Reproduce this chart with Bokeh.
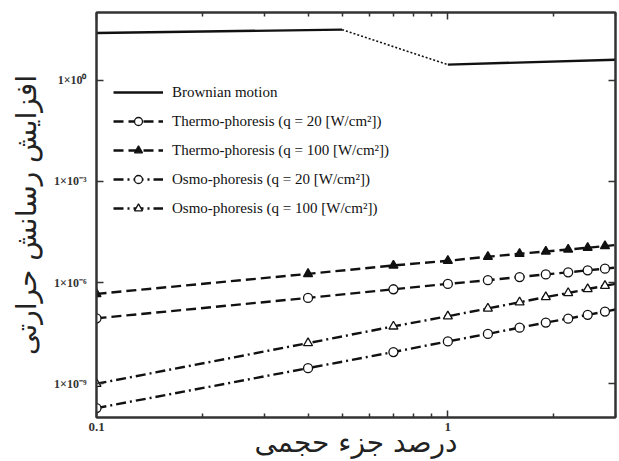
from bokeh.plotting import figure
from bokeh.models import (FixedTicker, CustomJSTickFormatter, LogAxis, Legend,
                          LegendItem)
from bokeh.embed import file_html
from bokeh.resources import INLINE

# ---------------- data ----------------
vol_frac = [0.1, 0.4, 0.7, 1.0, 1.3, 1.6, 1.9, 2.2, 2.5, 2.8, 3.0]
n_markers = 10  # markers drawn on the first 10 points

thermo_q20 = [8.7e-8, 3.5e-7, 6.3e-7, 9.1e-7, 1.17e-6, 1.45e-6, 1.74e-6, 2.0e-6, 2.3e-6, 2.57e-6, 2.75e-6]
thermo_q100 = [4.6e-7, 1.8e-6, 3.2e-6, 4.4e-6, 5.8e-6, 7.1e-6, 8.3e-6, 9.5e-6, 1.07e-5, 1.2e-5, 1.29e-5]
osmo_q20 = [1.9e-10, 2.9e-9, 8.7e-9, 1.8e-8, 3.0e-8, 4.6e-8, 6.5e-8, 8.5e-8, 1.1e-7, 1.38e-7, 1.58e-7]
osmo_q100 = [1.0e-9, 1.6e-8, 5.0e-8, 1.0e-7, 1.7e-7, 2.6e-7, 3.7e-7, 4.9e-7, 6.4e-7, 8.0e-7, 9.1e-7]

brown_x_a = [0.1, 0.5]
brown_y_a = [24.8, 31.0]
brown_x_gap = [0.5, 1.0]
brown_y_gap = [31.0, 2.85]
brown_x_b = [1.0, 3.0]
brown_y_b = [2.85, 4.0]

x_tick_values = [0.1, 1.0]
x_tick_labels = ["0.1", "1"]
x_minor_ticks = [0.2, 0.3, 0.4, 0.5, 0.6, 0.7, 0.8, 0.9, 2.0, 3.0]
y_tick_values = [1e-9, 1e-6, 1e-3, 1.0]
y_tick_labels = ["1×10⁻⁹", "1×10⁻⁶", "1×10⁻³", "1×10⁰"]

labels = ["Brownian motion",
          "Thermo-phoresis (q = 20 [W/cm²])",
          "Thermo-phoresis (q = 100 [W/cm²])",
          "Osmo-phoresis (q = 20 [W/cm²])",
          "Osmo-phoresis (q = 100 [W/cm²])"]
x_title = "درصد جزء حجمی"
y_title = "افزایش رسانش حرارتی"

# ---------------- figure ----------------
p = figure(width=619, height=461, x_axis_type="log", y_axis_type="log",
           x_range=(0.1, 3.0), y_range=(1e-10, 1e2),
           output_backend="svg", toolbar_location=None,
           min_border_top=12, min_border_right=4, min_border_left=96,
           min_border_bottom=40)
p.grid.visible = False
p.outline_line_color = "#333333"
p.outline_line_width = 2
p.background_fill_color = "white"

fmt_code = """
const i = vals.findIndex(v => Math.abs(Math.log10(v) - Math.log10(tick)) < 1e-6);
return i >= 0 ? labs[i] : '';
"""
xt = FixedTicker(ticks=x_tick_values, minor_ticks=x_minor_ticks)
yt = FixedTicker(ticks=y_tick_values, minor_ticks=[])

xa = p.xaxis[0]
xa.ticker = xt
xa.formatter = CustomJSTickFormatter(args=dict(vals=x_tick_values, labs=x_tick_labels), code=fmt_code)
ya = p.yaxis[0]
ya.ticker = yt
ya.formatter = CustomJSTickFormatter(args=dict(vals=y_tick_values, labs=y_tick_labels), code=fmt_code)

def style_ticks(ax):
    ax.axis_line_color = "#333333"
    ax.axis_line_width = 2
    ax.major_tick_in = 7
    ax.major_tick_out = 0
    ax.minor_tick_in = 4
    ax.minor_tick_out = 0
    ax.major_tick_line_color = "#333333"
    ax.minor_tick_line_color = "#333333"
    ax.major_tick_line_width = 1.5
    ax.minor_tick_line_width = 1.5

for ax in (xa, ya):
    style_ticks(ax)
    ax.major_label_text_font = "Liberation Serif"
    ax.major_label_text_font_style = "bold"
    ax.major_label_text_color = "#333333"
    ax.axis_label_text_font = "DejaVu Sans"
    ax.axis_label_text_font_style = "normal"
    ax.axis_label_text_color = "#222222"
    ax.axis_label_text_font_size = "28px"

xa.major_label_text_font_size = "13px"
ya.major_label_text_font_size = "12px"
xa.major_label_standoff = 5
ya.major_label_standoff = 10
xa.axis_label = x_title
ya.axis_label = y_title
xa.axis_label_standoff = -8
ya.axis_label_standoff = 8

for loc, ticker in (("above", xt), ("right", yt)):
    ax = LogAxis(ticker=ticker, formatter=CustomJSTickFormatter(code="return '';"))
    style_ticks(ax)
    ax.major_label_text_font_size = "8px"
    ax.major_label_standoff = 0
    p.add_layout(ax, loc)

# ---------------- series ----------------
ink = "#111111"
b1 = p.line(brown_x_a, brown_y_a, line_color=ink, line_width=2.4)
p.line(brown_x_gap, brown_y_gap, line_color=ink, line_width=1.6, line_dash="2 2")
p.line(brown_x_b, brown_y_b, line_color=ink, line_width=2.4)

items = [LegendItem(label=labels[0], renderers=[b1])]

series = [
    (thermo_q20, "10 5", "circle", "white", labels[1]),
    (thermo_q100, "10 5", "triangle", ink, labels[2]),
    (osmo_q20, "10 4 2 4", "circle", "white", labels[3]),
    (osmo_q100, "10 4 2 4", "triangle", "white", labels[4]),
]
for ys, dash, marker, fill, lab in series:
    ln = p.line(vol_frac, ys, line_color=ink, line_width=2.4, line_dash=dash)
    sc = p.scatter(vol_frac[:n_markers], ys[:n_markers], marker=marker, size=9,
                   line_color=ink, line_width=1.3, fill_color=fill)
    items.append(LegendItem(label=lab, renderers=[ln, sc]))

legend = Legend(items=items, location=(12, 194))
legend.background_fill_alpha = 0
legend.border_line_alpha = 0
legend.label_text_font = "Liberation Serif"
legend.label_text_font_size = "15px"
legend.label_text_color = "#111111"
legend.glyph_width = 50
legend.glyph_height = 20
legend.label_height = 20
legend.spacing = 9
legend.padding = 5
legend.margin = 0
legend.label_standoff = 9
p.add_layout(legend, "center")

open("out.html", "w").write(file_html(p, INLINE))
